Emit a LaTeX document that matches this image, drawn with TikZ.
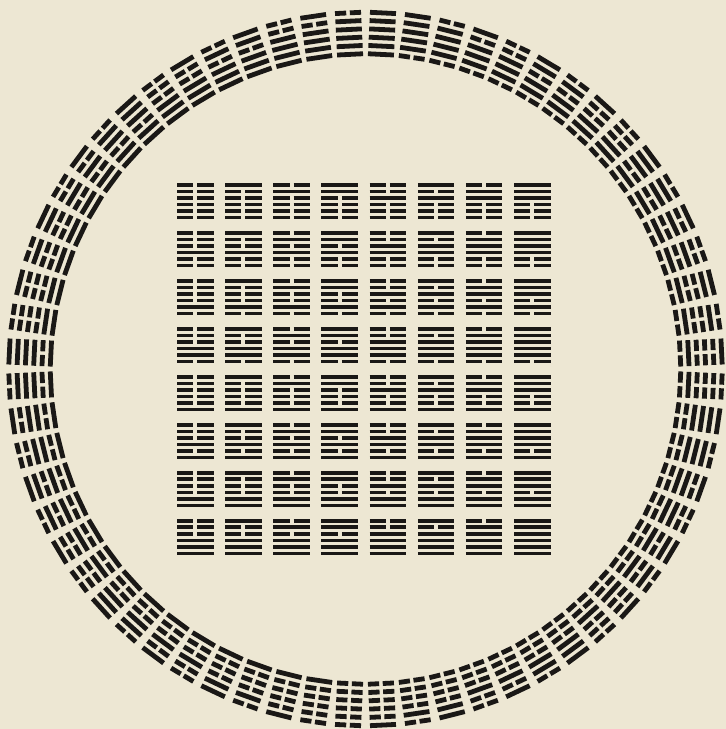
\documentclass[tikz,border=0pt]{standalone}
\definecolor{paper}{RGB}{237,231,211}
\definecolor{ink}{RGB}{26,24,22}
\begin{document}
\begin{tikzpicture}[x=1pt,y=1pt,
  ringline/.style={draw=ink,line width=4.8pt},
  sqline/.style={draw=ink,line width=3.6pt}]
\fill[paper] (0,0) rectangle (726,729);
\useasboundingbox (0,0) rectangle (726,729);
% ---- circle of 64 hexagrams (outer line = top line)
\foreach \i in {0,...,63}{
  \pgfmathtruncatemacro\hv{\i<32 ? 63-\i : \i-32}
  \pgfmathsetmacro\hang{87.1875+5.625*\i-90}
  \begin{scope}[shift={(365.5,360)},rotate=\hang]
    \foreach \k in {1,...,6}{
      \pgfmathtruncatemacro\hb{mod(floor(\hv/pow(2,6-\k)),2)}
      \pgfmathsetmacro\hr{315+8.3*(\k-1)}
      \ifnum\hb=1
        \draw[ringline] (-13,\hr) -- (13,\hr);
      \else
        \draw[ringline] (-13,\hr) -- (-1.8,\hr) (1.8,\hr) -- (13,\hr);
      \fi
    }
  \end{scope}
}
% ---- square of 64 hexagrams
\foreach \rr in {0,...,7}{
  \foreach \cc in {0,...,7}{
    \pgfmathtruncatemacro\hv{8*\rr+\cc}
    \pgfmathsetmacro\hx{177+48.15*\cc}
    \foreach \k in {1,...,6}{
      \pgfmathtruncatemacro\hb{mod(floor(\hv/pow(2,6-\k)),2)}
      \pgfmathsetmacro\hy{729-(185+47.96*\rr+6.54*(6-\k))}
      \ifnum\hb=1
        \draw[sqline] (\hx,\hy) -- ++(36.5,0);
      \else
        \draw[sqline] (\hx,\hy) -- ++(16.2,0) ++(4.1,0) -- ++(16.2,0);
      \fi
    }
  }
}
\end{tikzpicture}
\end{document}
